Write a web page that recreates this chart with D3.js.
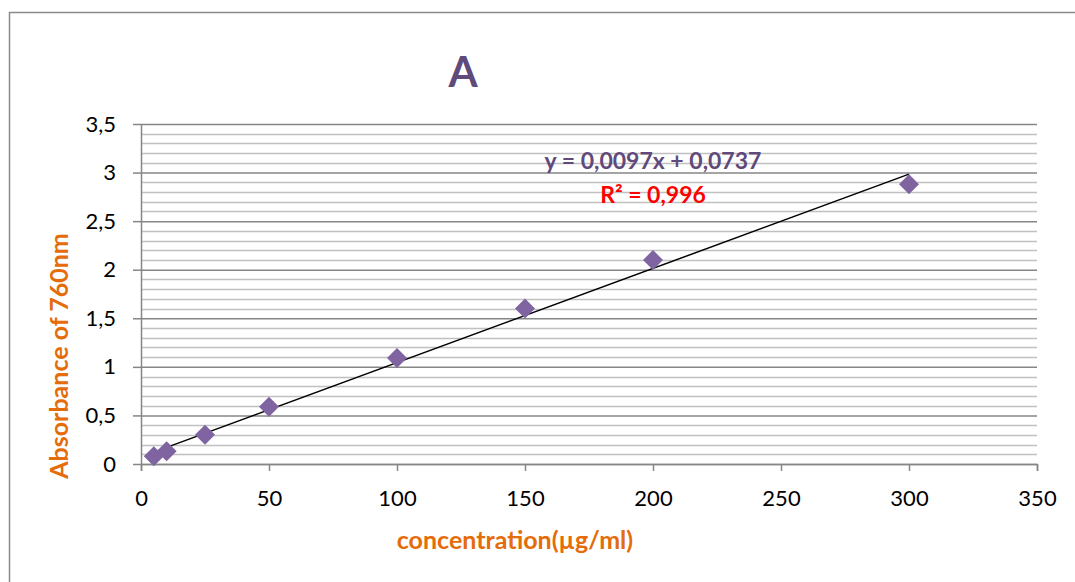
<!DOCTYPE html>
<html>
<head>
<meta charset="utf-8">
<script src="https://cdn.jsdelivr.net/npm/d3@7"></script>
<style>
  body { margin: 0; background: #fff; overflow: hidden; }
  svg { display: block; }
  text { font-family: Lato, "Open Sans", sans-serif; }
</style>
</head>
<body>
<div id="chart"></div>
<script>
// data
var concentration = [5, 10, 25, 50, 100, 150, 200, 300];
var absorbance = [0.08, 0.13, 0.30, 0.59, 1.09, 1.60, 2.10, 2.88];
var slope = 0.0097, intercept = 0.0737;
var xTicks = [0, 50, 100, 150, 200, 250, 300, 350];
var yTicks = [0, 0.5, 1, 1.5, 2, 2.5, 3, 3.5];
var title = "A";
var eqText = "y = 0,0097x + 0,0737";
var r2Text = "R² = 0,996";

var w = 1075, h = 582;
var marges = {left: 141, right: 38, top: 124, bottom: 118};
var graf_w = w - marges.left - marges.right;
var graf_h = h - marges.top - marges.bottom;

var fmt = d3.formatLocale({decimal: ",", thousands: ".", grouping: [3], currency: ["", ""]}).format("~g");

var root = d3.select("#chart").append("svg")
  .attr("width", w).attr("height", h);

// chart frame (runs off the picture at right and bottom)
root.append("rect")
  .attr("x", 9.5).attr("y", 12.5)
  .attr("width", 1200).attr("height", 700)
  .attr("fill", "none").attr("stroke", "#8a8a8a").attr("stroke-width", 1.5);

var svg = root.append("g")
  .attr("transform", "translate(" + marges.left + "," + marges.top + ")");

var x = d3.scaleLinear().domain([0, 350]).range([0, graf_w]);
var y = d3.scaleLinear().domain([0, 3.5]).range([graf_h, 0]);

// <-- GRID -------------
var minor = d3.range(1, 35).filter(function(i) { return i % 5 != 0; }).map(function(i) { return i / 10; });
svg.append("g").selectAll("line")
  .data(minor).enter().append("line")
    .attr("x1", 0).attr("x2", graf_w)
    .attr("y1", function(d) { return Math.round(y(d)) + 0.5; })
    .attr("y2", function(d) { return Math.round(y(d)) + 0.5; })
    .attr("stroke", "#c0c0c0").attr("stroke-width", 1.5);

svg.append("g")
  .attr("class", "yaxis")
  .call(d3.axisLeft(y).tickValues(yTicks).tickFormat(fmt).tickSize(-graf_w).tickPadding(25).tickSizeOuter(0))
  .call(function(g) {
    g.select(".domain").attr("stroke", "#868686").attr("stroke-width", 1.5);
    g.selectAll(".tick line").attr("stroke", "#868686").attr("stroke-width", 1.5);
    g.selectAll(".tick").append("line")
      .attr("x1", -8).attr("x2", 0)
      .attr("stroke", "#868686").attr("stroke-width", 1.5);
    g.selectAll("text").attr("font-size", 22).attr("fill", "#000").style("font-family", "Lato, sans-serif");
  });
// -- GRID ------------->

// <-- X AXIS -------------
svg.append("g")
  .attr("class", "xaxis")
  .attr("transform", "translate(0," + graf_h + ")")
  .call(d3.axisBottom(x).tickValues(xTicks).tickSize(7).tickPadding(19).tickSizeOuter(7))
  .call(function(g) {
    g.select(".domain").attr("stroke", "#868686").attr("stroke-width", 1.5);
    g.selectAll(".tick line").attr("stroke", "#868686").attr("stroke-width", 1.5);
    g.selectAll("text").attr("font-size", 22).attr("fill", "#000").style("font-family", "Lato, sans-serif");
  });
// -- X AXIS ------------->

// trend line
svg.append("line")
  .attr("x1", x(concentration[0]))
  .attr("x2", x(d3.max(concentration)))
  .attr("y1", y(slope * concentration[0] + intercept))
  .attr("y2", y(slope * d3.max(concentration) + intercept))
  .attr("stroke", "#000").attr("stroke-width", 1.5);

// points
svg.append("g").selectAll("path")
  .data(concentration).enter().append("path")
    .attr("d", "M0,-10L10,0L0,10L-10,0Z")
    .attr("transform", function(d, i) { return "translate(" + x(d) + "," + y(absorbance[i]) + ")"; })
    .attr("fill", "#8064a2");

// texts
root.append("text")
  .attr("x", 463).attr("y", 87)
  .attr("text-anchor", "middle")
  .attr("font-size", 42).attr("font-weight", "bold")
  .attr("fill", "#604a7b")
  .text(title);

root.append("text")
  .attr("x", 653).attr("y", 169)
  .attr("text-anchor", "middle")
  .attr("font-size", 23).attr("font-weight", "bold")
  .attr("fill", "#604a7b")
  .text(eqText);

root.append("text")
  .attr("x", 653).attr("y", 203)
  .attr("text-anchor", "middle")
  .attr("font-size", 23).attr("font-weight", "bold")
  .attr("fill", "#ff0000")
  .text(r2Text);

root.append("text")
  .attr("x", 515).attr("y", 549)
  .attr("text-anchor", "middle")
  .attr("font-size", 25).attr("font-weight", "bold")
  .attr("fill", "#e46c0a")
  .text("concentration(µg/ml)");

root.append("text")
  .attr("transform", "translate(68,356) rotate(-90)")
  .attr("text-anchor", "middle")
  .attr("font-size", 25).attr("font-weight", "bold")
  .attr("fill", "#e46c0a")
  .text("Absorbance of 760nm");
</script>
</body>
</html>
